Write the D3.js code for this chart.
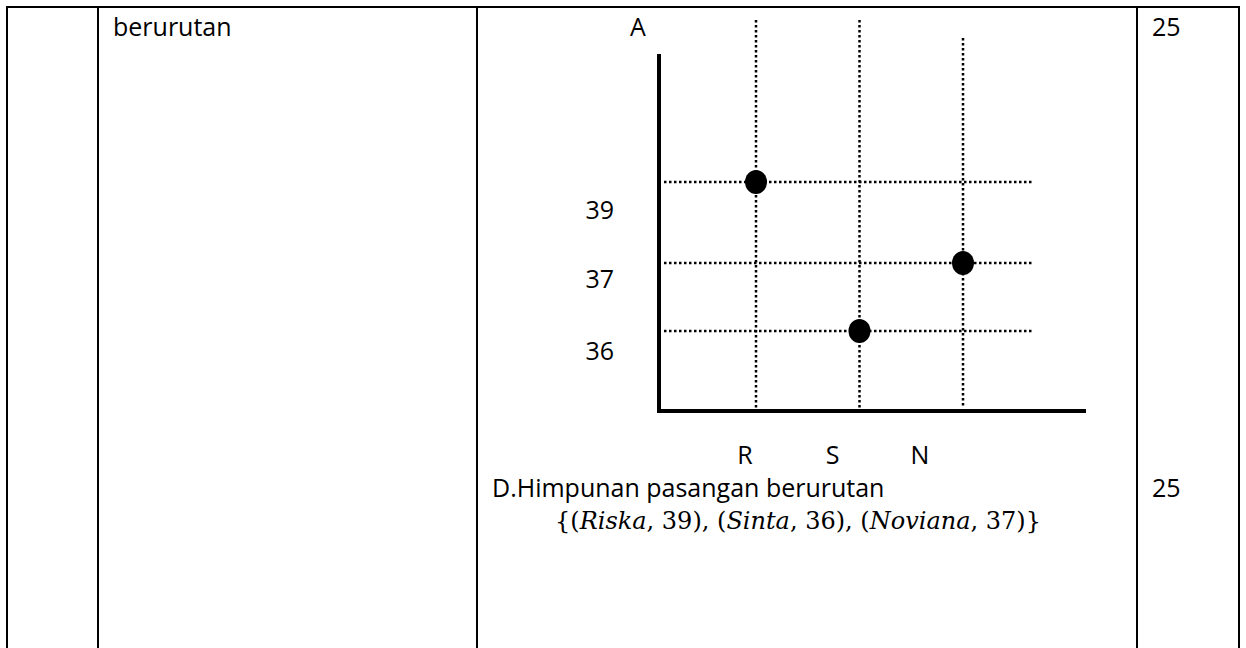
<!DOCTYPE html>
<html>
<head>
<meta charset="utf-8">
<script src="https://cdn.jsdelivr.net/npm/d3@7"></script>
<style>
  html, body { margin: 0; padding: 0; background: #fff; }
  svg { display: block; }
  text { font-family: "Open Sans", "Noto Sans", sans-serif; fill: #000; font-size: 25px; }
  .math { font-family: "DejaVu Serif", "Liberation Serif", serif; font-size: 24px; }
</style>
</head>
<body>
<script>
// data
const names = ["Riska", "Sinta", "Noviana"];
const initials = ["R", "S", "N"];
const ages = [39, 36, 37];
const ageTicks = [39, 37, 36];
const scores = ["25", "25"];

const width = 1246;
const height = 648;

const svg = d3.select("body")
    .append("svg")
    .attr("width", width)
    .attr("height", height);

svg.append("rect")
    .attr("width", width)
    .attr("height", height)
    .attr("fill", "#fff");

// table frame
const colLines = [7, 98, 477, 1137, 1239];
svg.append("line")
    .attr("x1", 6).attr("x2", 1240)
    .attr("y1", 7).attr("y2", 7)
    .attr("stroke", "#000").attr("stroke-width", 2);
svg.selectAll("line.col")
    .data(colLines)
    .enter()
    .append("line")
    .attr("class", "col")
    .attr("x1", d => d).attr("x2", d => d)
    .attr("y1", 6).attr("y2", height)
    .attr("stroke", "#000").attr("stroke-width", 2);

svg.append("text")
    .attr("x", 113).attr("y", 36)
    .text("berurutan");

svg.selectAll("text.score")
    .data(scores)
    .enter()
    .append("text")
    .attr("class", "score")
    .attr("x", 1152)
    .attr("y", (d, i) => i === 0 ? 36 : 497)
    .text(d => d);

// the plot
const x = d3.scalePoint()
    .domain(initials)
    .range([756, 963]);
const xLabel = d3.scalePoint()
    .domain(initials)
    .range([745, 920]);
const y = d3.scaleLinear()
    .domain([36, 37, 39])
    .range([331, 263, 182]);
// the tick labels sit a little below their grid lines
const yLabel = d3.scaleLinear()
    .domain([36, 37, 39])
    .range([351, 279, 210]);

const g = svg.append("g");

// dotted grid
g.selectAll("line.vgrid")
    .data(initials)
    .enter()
    .append("line")
    .attr("class", "vgrid")
    .attr("x1", d => x(d)).attr("x2", d => x(d))
    .attr("y1", (d, i) => i === 2 ? 38 : 20)
    .attr("y2", 408)
    .attr("stroke", "#000")
    .attr("stroke-width", 2.5)
    .attr("stroke-dasharray", "2.5,2.5");

g.selectAll("line.hgrid")
    .data(ages)
    .enter()
    .append("line")
    .attr("class", "hgrid")
    .attr("x1", 664).attr("x2", 1032)
    .attr("y1", d => y(d)).attr("y2", d => y(d))
    .attr("stroke", "#000")
    .attr("stroke-width", 2.5)
    .attr("stroke-dasharray", "2.5,2.5");

// axes
g.append("line")
    .attr("x1", 659).attr("x2", 659)
    .attr("y1", 54).attr("y2", 413)
    .attr("stroke", "#000").attr("stroke-width", 4);
g.append("line")
    .attr("x1", 657).attr("x2", 1086)
    .attr("y1", 411).attr("y2", 411)
    .attr("stroke", "#000").attr("stroke-width", 4);

const yAxis = d3.axisLeft(yLabel)
    .tickValues(ageTicks)
    .tickSize(0)
    .tickPadding(0)
    .tickFormat(d3.format("d"));
const yAxisG = g.append("g")
    .attr("transform", "translate(614,0)")
    .call(yAxis);
yAxisG.select(".domain").remove();
yAxisG.selectAll("text")
    .style("font-size", "25px")
    .style("font-family", "'Open Sans', sans-serif");

g.selectAll("text.xlab")
    .data(initials)
    .enter()
    .append("text")
    .attr("class", "xlab")
    .attr("x", d => xLabel(d))
    .attr("y", 464)
    .attr("text-anchor", "middle")
    .text(d => d);

g.append("text")
    .attr("x", 630).attr("y", 36)
    .text("A");

// points
g.selectAll("ellipse")
    .data(ages)
    .enter()
    .append("ellipse")
    .attr("cx", (d, i) => x(initials[i]))
    .attr("cy", d => y(d))
    .attr("rx", 11)
    .attr("ry", 12)
    .attr("fill", "#000");

// ordered pairs
svg.append("text")
    .attr("x", 492).attr("y", 497)
    .text("D.Himpunan pasangan berurutan");

const math = svg.append("text")
    .attr("class", "math")
    .attr("x", 555).attr("y", 529);
math.append("tspan").text("{");
names.forEach((n, i) => {
    math.append("tspan").text("(");
    math.append("tspan").style("font-style", "italic").text(n);
    math.append("tspan").text(", " + ages[i] + ")" + (i < names.length - 1 ? ", " : ""));
});
math.append("tspan").text("}");
</script>
</body>
</html>
